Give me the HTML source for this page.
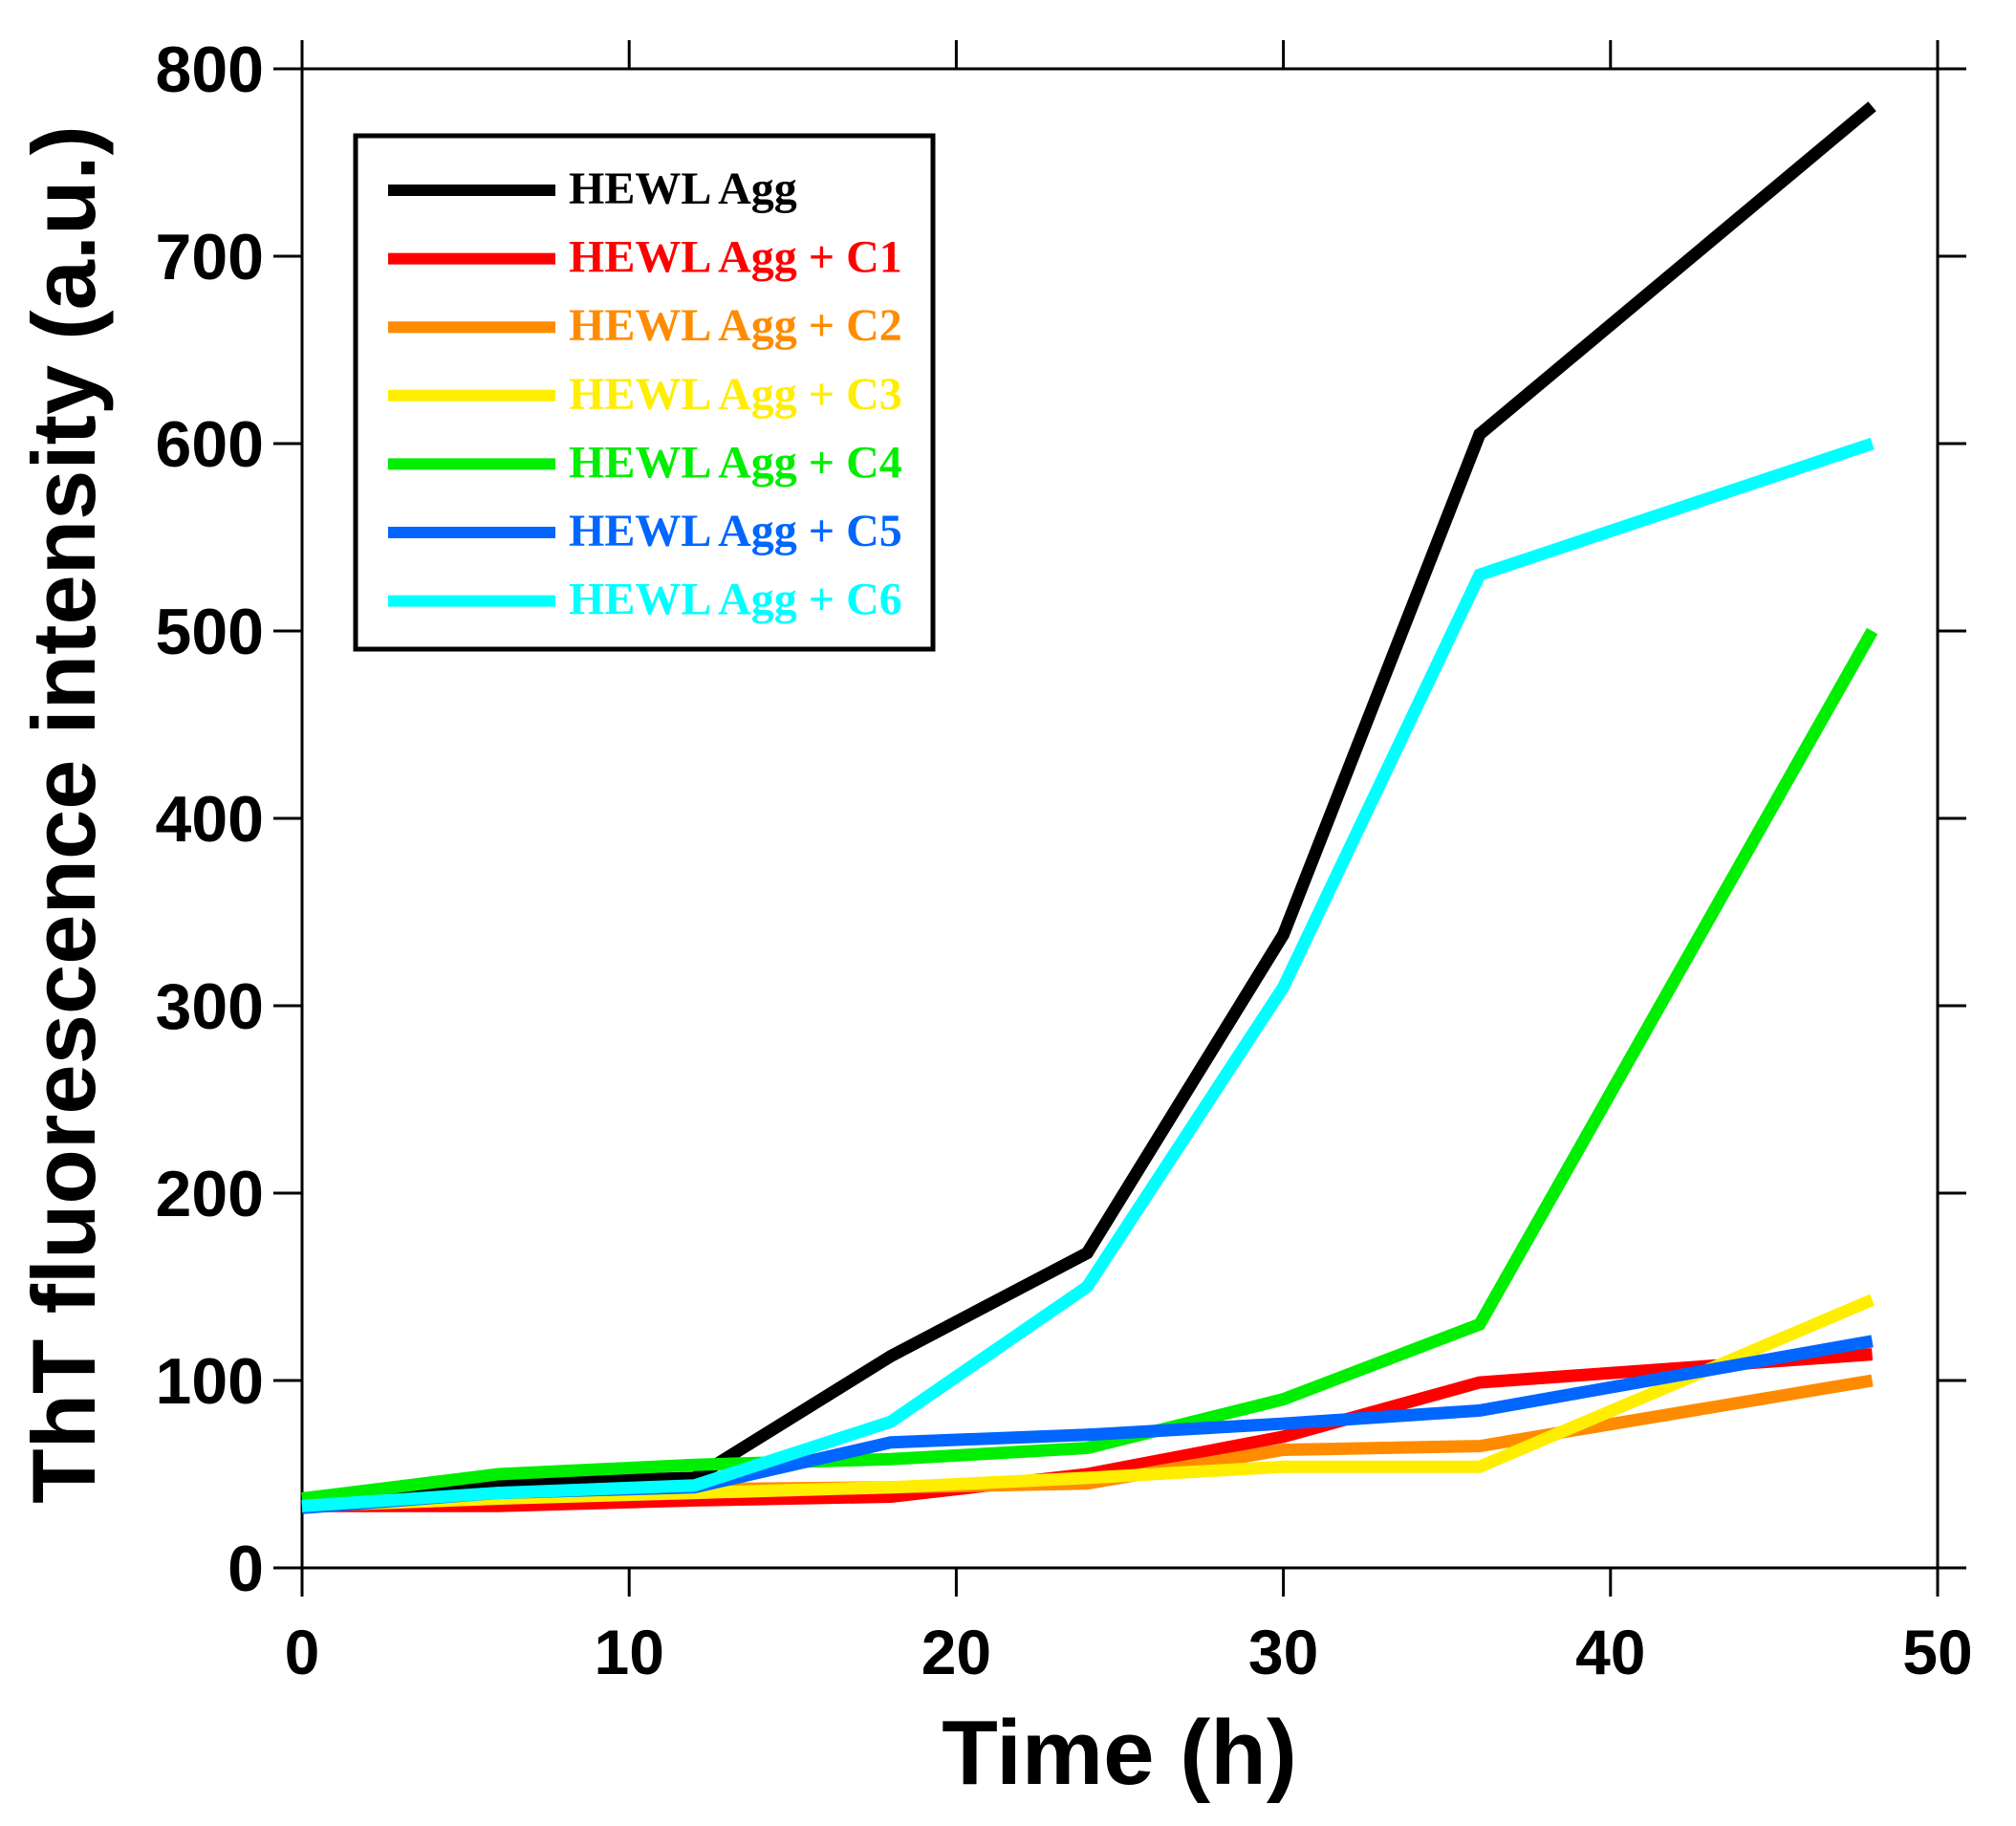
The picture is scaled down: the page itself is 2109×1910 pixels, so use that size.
<!DOCTYPE html>
<html><head><meta charset="utf-8"><style>
html,body{margin:0;padding:0;background:#fff;}
svg{display:block;}
</style></head><body>
<svg id="chart" width="2109" height="1910" viewBox="0 0 2109 1910" xmlns="http://www.w3.org/2000/svg">
<g id="axes"></g>
<g id="series"></g>
<g id="legend"></g>
<text x="0" y="0" transform="translate(99,852) rotate(-90)" text-anchor="middle" font-family="Liberation Sans, sans-serif" font-weight="bold" font-size="94">ThT fluorescence intensity (a.u.)</text>
<text x="1171" y="1866" text-anchor="middle" font-family="Liberation Sans, sans-serif" font-weight="bold" font-size="96">Time (h)</text>
</svg>
<script>
const times = [0, 6, 12, 18, 24, 30, 36, 48];
const seriesNames = ["HEWL Agg","HEWL Agg + C1","HEWL Agg + C2","HEWL Agg + C3","HEWL Agg + C4","HEWL Agg + C5","HEWL Agg + C6"];
const hewl = [33, 45, 48, 113, 168, 338, 605, 780];
const c1 = [33, 33, 36, 38, 50, 70, 99, 114];
const c2 = [33, 37, 42, 43, 45, 63, 65, 100];
const c3 = [33, 37, 40, 43, 48, 54, 54, 143];
const c4 = [37, 50, 55, 58, 64, 90, 130, 500];
const c5 = [32, 40, 43, 67, 71, 77, 84, 121];
const c6 = [33, 40, 44, 78, 150, 310, 530, 600];
const xTicks = [0, 10, 20, 30, 40, 50];
const yTicks = [0, 100, 200, 300, 400, 500, 600, 700, 800];

const NS = "http://www.w3.org/2000/svg";
const X0 = 316, X1 = 2027, Y0 = 1640, Y1 = 72;
const xs = v => X0 + (v - 0) / 50 * (X1 - X0);
const ys = v => Y0 - (v - 0) / 800 * (Y0 - Y1);
function mk(tag, attrs, parent){const e=document.createElementNS(NS,tag);for(const k in attrs)e.setAttribute(k,attrs[k]);parent.appendChild(e);return e;}

const axes = document.getElementById('axes');
const frame = mk('rect',{x:X0,y:Y1,width:X1-X0,height:Y0-Y1,fill:'none',stroke:'#000','stroke-width':3},axes);


xTicks.forEach(t=>{
  const x = xs(t);
  const tb = mk('line',{x1:x,x2:x,y1:Y0,y2:Y0+30,stroke:'#000','stroke-width':3},axes);
  
  
  const tt = mk('line',{x1:x,x2:x,y1:Y1,y2:Y1-30,stroke:'#000','stroke-width':3},axes);
  
  
  const lb = mk('text',{x:x,y:Y0+111,'text-anchor':'middle','font-family':'Liberation Sans, sans-serif','font-weight':'bold','font-size':66},axes);
  lb.textContent = t;
  
  
});
yTicks.forEach(t=>{
  const y = ys(t);
  const tl = mk('line',{x1:X0-30,x2:X0,y1:y,y2:y,stroke:'#000','stroke-width':3},axes);
  
  
  const tr = mk('line',{x1:X1,x2:X1+30,y1:y,y2:y,stroke:'#000','stroke-width':3},axes);
  
  
  const lb = mk('text',{x:X0-40,y:y+24,'text-anchor':'end','font-family':'Liberation Sans, sans-serif','font-weight':'bold','font-size':68},axes);
  lb.textContent = t;
  
  
});

const seriesData = [hewl, c1, c2, c3, c4, c5, c6];
const colors = ['#000000','#ff0000','#ff8c00','#ffee00','#00ee00','#0066ff','#00ffff'];
const sg = document.getElementById('series');
seriesData.forEach((d,i)=>{
  const pts = d.map((v,j)=>xs(times[j]).toFixed(1)+','+ys(v).toFixed(1)).join(' ');
  const pl = mk('polyline',{points:pts,fill:'none',stroke:colors[i],'stroke-width':13,'stroke-linejoin':'miter'},sg);
  
  
});

const lg = document.getElementById('legend');
const box = mk('rect',{x:372,y:142,width:604,height:537,fill:'#fff',stroke:'#000','stroke-width':5},lg);


seriesNames.forEach((n,i)=>{
  const y = 199 + i*71.6;
  const ln = mk('line',{x1:406,x2:581,y1:y,y2:y,stroke:colors[i],'stroke-width':12},lg);
  
  
  const tx = mk('text',{x:595,y:y+14,fill:colors[i],'font-family':'Liberation Serif, serif','font-weight':'bold','font-size':48},lg);
  tx.textContent = n;
  
  
});
</script>
</body></html>
